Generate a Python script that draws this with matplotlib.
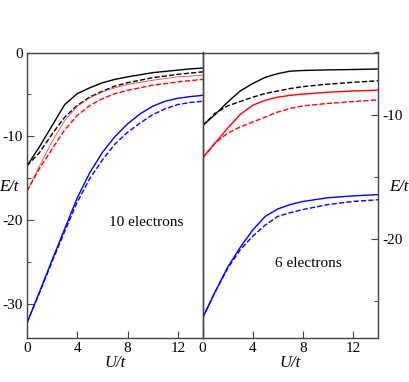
import matplotlib
matplotlib.use("Agg")
import matplotlib.pyplot as plt
from matplotlib.ticker import MultipleLocator

plt.rcParams['font.family'] = ['Liberation Serif', 'DejaVu Serif']
plt.rcParams['font.serif'] = ['Liberation Serif', 'DejaVu Serif']

# ---- data: left panel (10 electrons) ----
u_left = [0, 1, 2, 3, 4, 5, 6, 7, 8, 9, 10, 11, 12, 13, 14]
black_solid_L = [-13.5, -11.2, -8.7, -6.2, -4.9, -4.2, -3.6, -3.2, -2.9, -2.65, -2.4, -2.25, -2.1, -1.95, -1.85]
black_dash_L = [-13.5, -11.9, -9.7, -7.7, -6.3, -5.3, -4.6, -4.0, -3.6, -3.3, -3.0, -2.8, -2.6, -2.45, -2.3]
red_solid_L = [-16.5, -13.5, -10.6, -8.1, -6.4, -5.4, -4.7, -4.2, -3.8, -3.55, -3.3, -3.1, -2.9, -2.8, -2.7]
red_dash_L = [-16.5, -13.8, -11.5, -9.2, -7.5, -6.3, -5.5, -4.9, -4.5, -4.2, -3.9, -3.7, -3.5, -3.35, -3.2]
blue_solid_L = [-32.2, -28.5, -24.7, -21.0, -17.3, -14.3, -11.9, -10.0, -8.5, -7.3, -6.4, -5.8, -5.45, -5.25, -5.1]
blue_dash_L = [-32.2, -28.6, -24.9, -21.3, -17.8, -15.0, -12.8, -10.9, -9.5, -8.4, -7.4, -6.7, -6.2, -5.95, -5.8]

# ---- data: right panel (6 electrons) ----
u_right = [0, 1, 2, 3, 4, 5, 6, 7, 8, 10, 12, 14]
black_solid_R = [-10.9, -10.0, -9.0, -8.1, -7.5, -7.0, -6.7, -6.5, -6.45, -6.4, -6.37, -6.33]
black_dash_R = [-10.9, -9.9, -9.3, -8.95, -8.6, -8.3, -8.1, -7.9, -7.75, -7.55, -7.4, -7.28]
red_solid_R = [-13.5, -12.3, -11.1, -10.0, -9.25, -8.85, -8.6, -8.45, -8.35, -8.2, -8.1, -8.03]
red_dash_R = [-13.5, -12.3, -11.5, -11.0, -10.6, -10.2, -9.8, -9.5, -9.3, -9.1, -8.95, -8.82]
blue_solid_R = [-26.4, -24.3, -22.3, -20.7, -19.3, -18.2, -17.6, -17.25, -17.0, -16.7, -16.55, -16.45]
blue_dash_R = [-26.4, -24.3, -22.4, -20.9, -19.8, -18.9, -18.2, -17.9, -17.65, -17.25, -17.0, -16.86]

x_ticks = [0, 4, 8, 12]
left_label = "10 electrons"
right_label = "6 electrons"

fig = plt.figure(figsize=(4.09, 3.82), dpi=100)
axL = fig.add_axes([27/409, (382-338)/382, 176/409, (338-52.5)/382])
axR = fig.add_axes([202.5/409, (382-338)/382, 175.8/409, (338-52.5)/382])

fs = 11
lw = 1.0
axL.plot(u_left, black_solid_L, color='black', lw=lw)
axL.plot(u_left, black_dash_L, color='black', lw=lw, ls='--')
axL.plot(u_left, red_solid_L, color='#ff4040', lw=0.6)
axL.plot(u_left, red_dash_L, color='red', lw=lw, ls='--')
axL.plot(u_left, blue_solid_L, color='blue', lw=lw)
axL.plot(u_left, blue_dash_L, color='blue', lw=lw, ls='--')

axR.plot(u_right, black_solid_R, color='black', lw=lw)
axR.plot(u_right, black_dash_R, color='black', lw=lw, ls='--')
axR.plot(u_right, red_solid_R, color='red', lw=lw)
axR.plot(u_right, red_dash_R, color='red', lw=lw, ls='--')
axR.plot(u_right, blue_solid_R, color='blue', lw=lw)
axR.plot(u_right, blue_dash_R, color='blue', lw=lw, ls='--')

axL.set_xlim(0, 14)
axL.set_ylim(-34, 0)
axR.set_xlim(0, 14)
axR.set_ylim(-28, -5)

for ax in (axL, axR):
    ax.set_xticks(x_ticks)
    ax.set_xticklabels([str(t) for t in x_ticks], fontsize=fs)
    ax.yaxis.set_major_locator(MultipleLocator(10))
    ax.yaxis.set_minor_locator(MultipleLocator(5))
    ax.tick_params(axis='both', which='major', direction='in', length=5, width=0.8,
                   labelsize=fs, pad=3, color='#444444')
    ax.tick_params(axis='y', which='minor', direction='in', length=3, width=0.8, color='#444444')
    for s in ax.spines.values():
        s.set_linewidth(1.0)
        s.set_color('#444444')
    ax.set_xlabel('U/t', fontsize=12, style='italic', labelpad=0)

axL.tick_params(axis='y', which='both', left=True, right=False, labelleft=True, labelright=False)
axR.tick_params(axis='y', which='both', left=False, right=True, labelleft=False, labelright=True)
axR.patch.set_alpha(0.0)

axL.set_yticks([0, -10, -20, -30])
axL.set_yticklabels(['0', '-10', '-20', '-30'])
axR.set_yticks([-10, -20])
axR.set_yticklabels(['-10', '-20'])

fig.text(9/409, 1 - 187/382, 'E/t', fontsize=12, style='italic', ha='center', va='center')
fig.text(399/409, 1 - 187/382, 'E/t', fontsize=12, style='italic', ha='center', va='center')

axL.text(9.47, -20.2, left_label, fontsize=fs, ha='center', va='center')
axR.text(8.4, -22.0, right_label, fontsize=fs, ha='center', va='center')

fig.savefig('out.png', dpi=100)
